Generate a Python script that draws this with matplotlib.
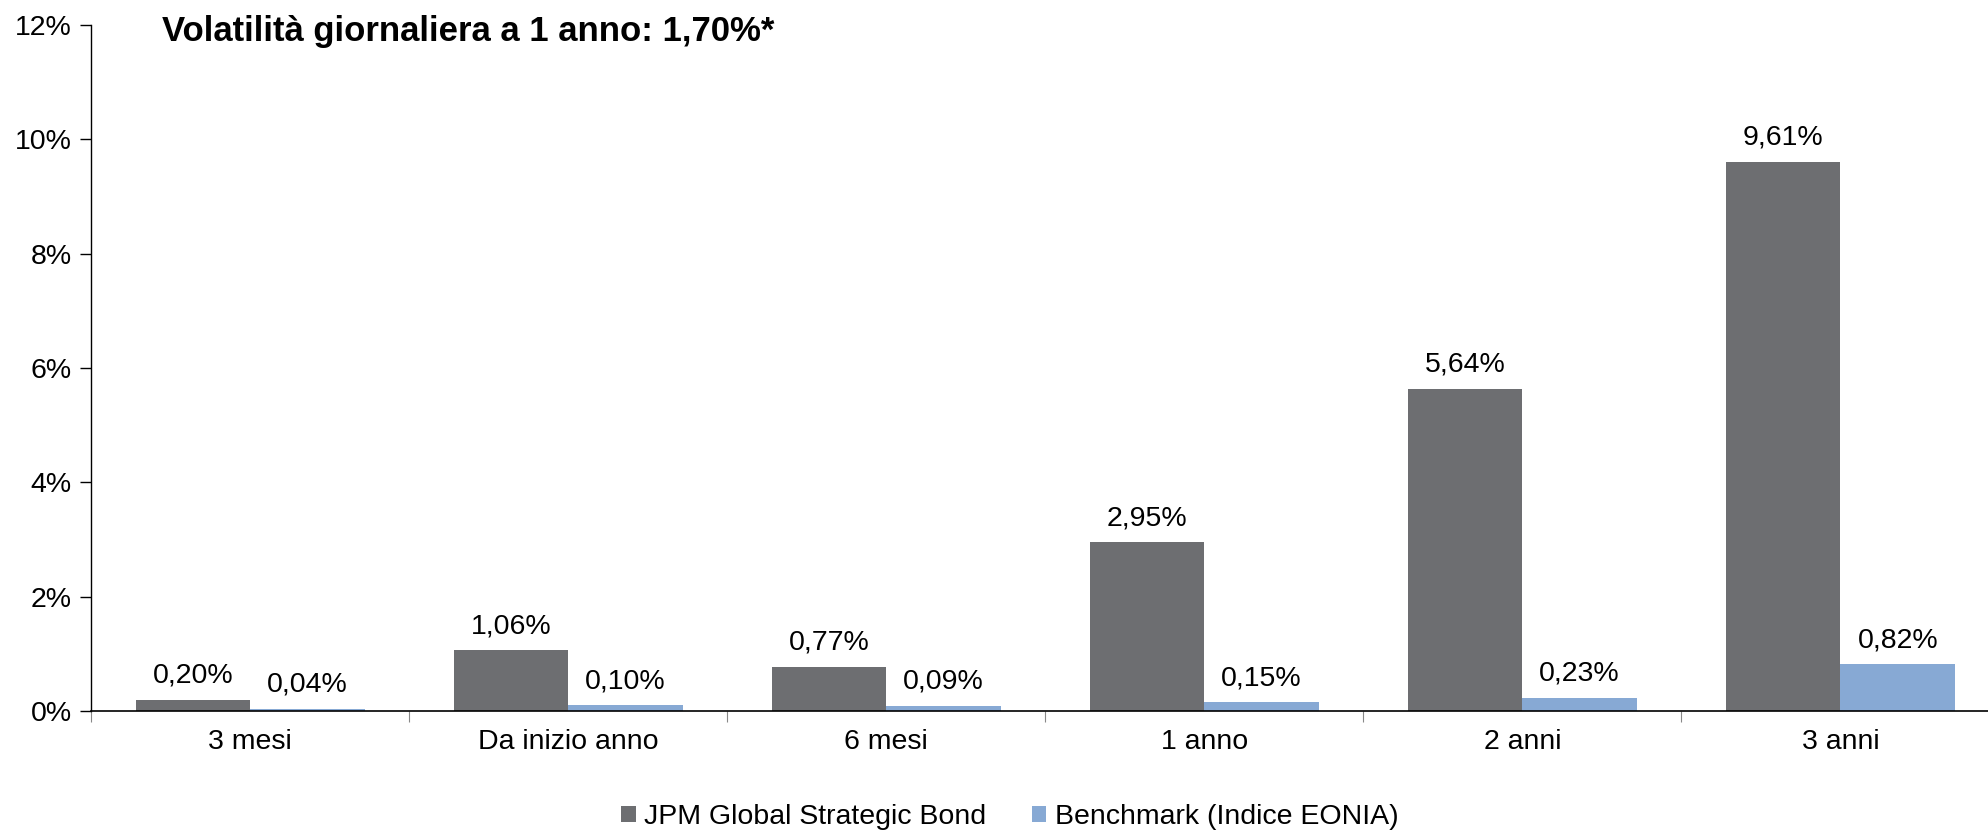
import numpy as np
import matplotlib
matplotlib.use("Agg")
from matplotlib import pyplot as plt
from matplotlib.ticker import FixedLocator, FuncFormatter

plt.rcParams['font.family'] = ['Liberation Sans', 'DejaVu Sans']

# data (volatility, %)
periods = ['3 mesi', 'Da inizio anno', '6 mesi', '1 anno', '2 anni', '3 anni']
fund = [0.20, 1.06, 0.77, 2.95, 5.64, 9.61]
bench = [0.04, 0.10, 0.09, 0.15, 0.23, 0.82]
fund_name = 'JPM Global Strategic Bond'
bench_name = 'Benchmark (Indice EONIA)'
title = 'Volatilità giornaliera a 1 anno: 1,70%*'

grey = '#6D6E71'
blue = '#87A9D4'
fs = 20.5

fig = plt.figure(figsize=(19.88, 8.32), dpi=100)
ax = fig.add_axes([0.0458, 0.1454, 0.96, 0.8245])

x = np.arange(len(periods))
w = 0.36
b1 = ax.bar(x - w/2, fund, w, color=grey, label=fund_name)
b2 = ax.bar(x + w/2, bench, w, color=blue, label=bench_name)

def pct(v):
    return ('%.2f%%' % v).replace('.', ',')

for bars, vals in ((b1, fund), (b2, bench)):
    for r, v in zip(bars, vals):
        ax.annotate(pct(v), (r.get_x() + r.get_width()/2, v),
                    xytext=(0, 8), textcoords='offset points',
                    ha='center', va='bottom', fontsize=fs)

ax.set_xlim(-0.5, len(periods) - 0.5)
ax.set_ylim(0, 12)
ax.set_yticks(np.arange(0, 13, 2))
ax.yaxis.set_major_formatter(FuncFormatter(lambda v, p: '%d%%' % v))
ax.set_xticks(x)
ax.set_xticklabels(periods)
ax.xaxis.set_minor_locator(FixedLocator(np.arange(-0.5, len(periods), 1)))

ax.tick_params(axis='y', labelsize=fs, length=8, width=1, pad=6)
ax.tick_params(axis='x', which='major', labelsize=fs, length=0, pad=13)
ax.tick_params(axis='x', which='minor', length=8, width=0.8, color='#888888')

for s in ['top', 'right']:
    ax.spines[s].set_visible(False)
ax.spines['left'].set_linewidth(1)
ax.spines['bottom'].set_linewidth(1.2)

fig.text(0.0815, 0.962, title, fontsize=25, fontweight='bold', va='center')

fig.legend(handles=[b1, b2], loc='center', bbox_to_anchor=(0.508, 0.018),
           ncol=2, frameon=False, fontsize=fs, handlelength=0.5,
           handleheight=0.5, handletextpad=0.3, columnspacing=1.6)

fig.savefig('out.png', dpi=100)
